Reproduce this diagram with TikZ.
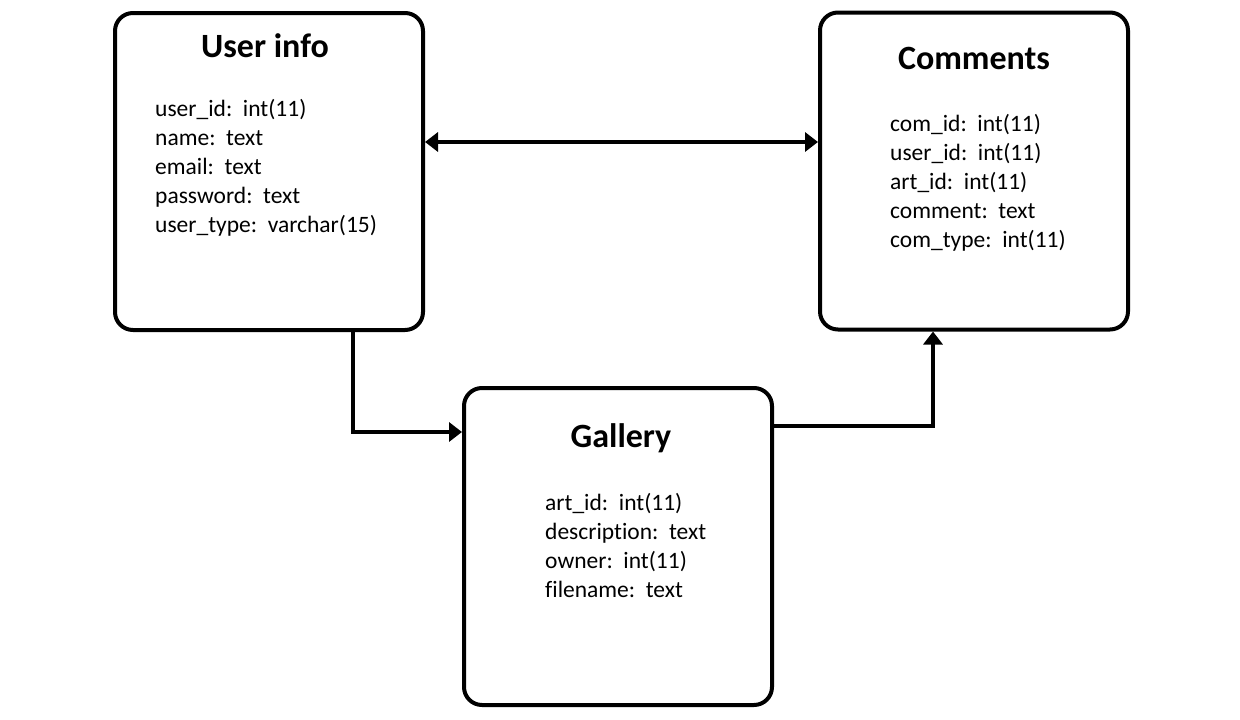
\documentclass[tikz,border=0pt]{standalone}
\usepackage{fontspec}
\setmainfont{Carlito}[Ligatures=NoCommon]
\usetikzlibrary{positioning}
\usetikzlibrary{arrows.meta}

\tikzset{
  table/.style={draw=black,line width=4pt,rounded corners=18pt,minimum width=308pt,minimum height=317pt},
  tabletitle/.style={font=\bfseries\fontsize{34}{39}\selectfont},
  fields/.style={align=left,inner sep=0pt,anchor=north west,font=\fontsize{23.5}{29}\selectfont},
  link/.style={line width=4pt,-{Triangle[length=13pt,width=19pt]}}
}

\begin{document}
\begin{tikzpicture}[x=1pt,y=-1pt]
\useasboundingbox (0,0) rectangle (1240,720);

\node[table] (user) at (269,171.5) {};
\node[table] (comments) at (974,171) {};
\node[table] (gallery) at (618,546.5) {};

\node[tabletitle] (usertitle) at (265,46) {User info};
\node[tabletitle] (commentstitle) at (974,58) {Comments};
\node[tabletitle] (gallerytitle) at (621,438) {Gallery};

\node[fields] (userfields) at (155,99) {user\_id:\ \ int(11)\\ name:\ \ text\\ email:\ \ text\\ password:\ \ text\\ user\_type:\ \ varchar(15)};
\node[fields] (commentsfields) at (890,114) {com\_id:\ \ int(11)\\ user\_id:\ \ int(11)\\ art\_id:\ \ int(11)\\ comment:\ \ text\\ com\_type:\ \ int(11)};
\node[fields] (galleryfields) at (545,493) {art\_id:\ \ int(11)\\ description:\ \ text\\ owner:\ \ int(11)\\ filename:\ \ text};

\draw[link,{Triangle[length=13pt,width=19pt]}-{Triangle[length=13pt,width=19pt]}] ([yshift=29.5pt]user.east) -- ([yshift=29pt]comments.west);
\draw[link] ([xshift=84pt]user.south) |- ([yshift=114.5pt]gallery.west);
\draw[link] ([yshift=120.5pt]gallery.east) -| ([xshift=-41pt]comments.south);

\end{tikzpicture}
\end{document}
